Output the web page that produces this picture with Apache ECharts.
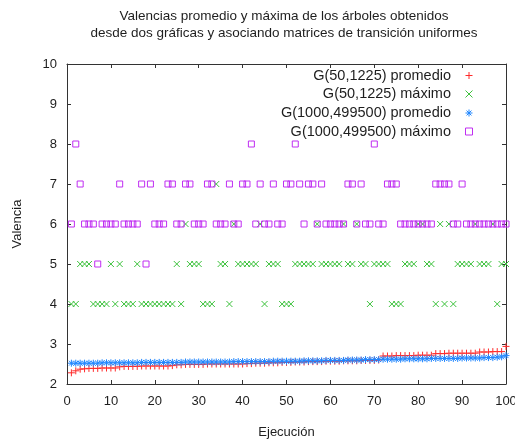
<!DOCTYPE html>
<html>
<head>
<meta charset="utf-8">
<script src="https://cdn.jsdelivr.net/npm/echarts@6/dist/echarts.min.js"></script>
<style>
  html, body { margin: 0; padding: 0; background: #fff; }
  #chart { width: 515px; height: 440px; }
</style>
</head>
<body>
<div id="chart"></div>
<script>
// Run number of each execution (x axis)
const runs = [
  1, 2, 3, 4, 5, 6, 7, 8, 9, 10,
  11, 12, 13, 14, 15, 16, 17, 18, 19, 20,
  21, 22, 23, 24, 25, 26, 27, 28, 29, 30,
  31, 32, 33, 34, 35, 36, 37, 38, 39, 40,
  41, 42, 43, 44, 45, 46, 47, 48, 49, 50,
  51, 52, 53, 54, 55, 56, 57, 58, 59, 60,
  61, 62, 63, 64, 65, 66, 67, 68, 69, 70,
  71, 72, 73, 74, 75, 76, 77, 78, 79, 80,
  81, 82, 83, 84, 85, 86, 87, 88, 89, 90,
  91, 92, 93, 94, 95, 96, 97, 98, 99, 100
];

// G(50,1225): average degree per run
const avgG50 = [
  2.28, 2.33, 2.37, 2.38, 2.39, 2.39, 2.39, 2.40, 2.40, 2.40,
  2.40, 2.43, 2.44, 2.44, 2.44, 2.44, 2.45, 2.45, 2.45, 2.45,
  2.45, 2.45, 2.45, 2.46, 2.48, 2.48, 2.49, 2.49, 2.49, 2.49,
  2.49, 2.50, 2.50, 2.50, 2.50, 2.50, 2.50, 2.50, 2.50, 2.50,
  2.51, 2.51, 2.52, 2.52, 2.52, 2.53, 2.53, 2.53, 2.54, 2.54,
  2.54, 2.55, 2.55, 2.55, 2.56, 2.56, 2.56, 2.56, 2.57, 2.57,
  2.57, 2.57, 2.58, 2.58, 2.58, 2.58, 2.59, 2.59, 2.59, 2.59,
  2.60, 2.70, 2.70, 2.70, 2.71, 2.71, 2.71, 2.71, 2.71, 2.72,
  2.72, 2.72, 2.72, 2.76, 2.76, 2.76, 2.77, 2.77, 2.77, 2.77,
  2.77, 2.77, 2.77, 2.80, 2.80, 2.80, 2.81, 2.81, 2.81, 2.94
];

// G(50,1225): maximum degree per run
const maxG50 = [
  4, 4, 5, 5, 5, 4, 4, 4, 4, 5,
  4, 5, 4, 4, 4, 5, 4, 4, 4, 4,
  4, 4, 4, 4, 5, 4, 6, 5, 5, 5,
  4, 4, 4, 7, 5, 5, 4, 6, 5, 5,
  5, 5, 5, 6, 4, 5, 5, 5, 4, 4,
  4, 5, 5, 5, 5, 5, 6, 5, 5, 5,
  5, 5, 6, 5, 5, 6, 5, 5, 4, 5,
  5, 5, 5, 4, 4, 4, 5, 5, 5, 6,
  6, 5, 5, 4, 6, 4, 6, 4, 5, 5,
  5, 5, 6, 5, 5, 5, 6, 4, 5, 5
];

// G(1000,499500): average degree per run
const avgG1000 = [
  2.52, 2.52, 2.52, 2.52, 2.52, 2.52, 2.52, 2.53, 2.53, 2.53,
  2.53, 2.53, 2.53, 2.53, 2.53, 2.53, 2.54, 2.54, 2.54, 2.54,
  2.54, 2.54, 2.54, 2.54, 2.54, 2.54, 2.55, 2.55, 2.55, 2.55,
  2.55, 2.55, 2.55, 2.55, 2.55, 2.55, 2.55, 2.56, 2.56, 2.56,
  2.56, 2.56, 2.56, 2.56, 2.56, 2.56, 2.57, 2.57, 2.57, 2.57,
  2.57, 2.57, 2.57, 2.58, 2.58, 2.58, 2.58, 2.58, 2.59, 2.59,
  2.59, 2.59, 2.59, 2.60, 2.60, 2.60, 2.60, 2.61, 2.61, 2.61,
  2.61, 2.62, 2.62, 2.62, 2.62, 2.62, 2.63, 2.63, 2.63, 2.63,
  2.63, 2.63, 2.64, 2.64, 2.64, 2.64, 2.64, 2.64, 2.64, 2.65,
  2.65, 2.65, 2.65, 2.65, 2.66, 2.66, 2.66, 2.67, 2.68, 2.71
];

// G(1000,499500): maximum degree per run
const maxG1000 = [
  6, 8, 7, 6, 6, 6, 5, 6, 6, 6,
  6, 7, 6, 6, 6, 6, 7, 5, 7, 6,
  6, 6, 7, 7, 6, 6, 7, 7, 6, 6,
  6, 7, 7, 6, 6, 6, 7, 6, 6, 7,
  7, 8, 6, 7, 6, 6, 7, 6, 6, 7,
  7, 8, 7, 6, 7, 7, 6, 7, 6, 6,
  6, 6, 6, 7, 7, 6, 7, 6, 6, 8,
  6, 6, 7, 7, 7, 6, 6, 6, 6, 6,
  6, 6, 6, 7, 7, 7, 7, 6, 6, 7,
  6, 6, 6, 6, 6, 6, 6, 6, 6, 6
];

const seriesNames = [
  'G(50,1225) promedio',
  'G(50,1225) máximo',
  'G(1000,499500) promedio',
  'G(1000,499500) máximo'
];

const FONT = "'Liberation Sans', Arial, sans-serif";
const INK = '#1e1e1e';

// gnuplot-style point shapes
const PLUS = 'path://M0,5H10M5,0V10';
const CROSS = 'path://M0,0L10,10M10,0L0,10';
const STAR = 'path://M0,5H10M5,0V10M1.5,1.5L8.5,8.5M8.5,1.5L1.5,8.5';
const SQUARE = 'path://M0,0H10V10H0Z';

const colors = ['#ff2a2a', '#3cc23c', '#1f86ff', '#c02ef2'];
const shapes = [PLUS, CROSS, STAR, SQUARE];
const sizes = [7, 6, 7, 6];
const values = [avgG50, maxG50, avgG1000, maxG1000];

const pairs = v => runs.map((r, i) => [r, v[i]]);

const markStyle = k => ({
  color: k === 3 ? 'rgba(0,0,0,0)' : colors[k],
  borderColor: colors[k],
  borderWidth: 1,
  opacity: 1
});

const series = seriesNames.map((name, k) => ({
  name,
  type: 'scatter',
  data: pairs(values[k]),
  symbol: shapes[k],
  symbolSize: sizes[k],
  symbolKeepAspect: true,
  itemStyle: markStyle(k),
  emphasis: { disabled: true },
  animation: false
}));

// One legend block per series so every label is right-aligned against its key
const legendTops = [68, 86.5, 105.5, 124];
const legends = seriesNames.map((name, k) => ({
  data: [{ name, icon: shapes[k], itemStyle: markStyle(k) }],
  orient: 'horizontal',
  align: 'right',
  right: 42,
  top: legendTops[k],
  padding: 0,
  itemWidth: 26,
  itemHeight: 7,
  symbolKeepAspect: true,
  selectedMode: false,
  itemStyle: markStyle(k),
  textStyle: { fontFamily: FONT, fontSize: 14.5, color: INK }
}));

const xBase = {
  type: 'value', min: 0, max: 100, interval: 10,
  axisLine: { show: true, onZero: false, lineStyle: { color: '#333', width: 1 } },
  axisTick: { show: true, inside: true, length: 4, lineStyle: { color: '#333' } },
  splitLine: { show: false }
};
const yBase = {
  type: 'value', min: 2, max: 10, interval: 1,
  axisLine: { show: true, onZero: false, lineStyle: { color: '#333', width: 1 } },
  axisTick: { show: true, inside: true, length: 4, lineStyle: { color: '#333' } },
  splitLine: { show: false }
};

const chart = echarts.init(document.getElementById('chart'), null, { renderer: 'canvas' });
chart.setOption({
  backgroundColor: '#ffffff',
  animation: false,
  grid: { left: 67, right: 9, top: 64, bottom: 56, containLabel: false, outerBoundsMode: 'none' },
  graphic: [
    {
      type: 'text', x: 284, y: 16,
      style: { text: 'Valencias promedio y máxima de los árboles obtenidos',
        fontFamily: FONT, fontSize: 13.5, fill: INK, textAlign: 'center', textVerticalAlign: 'middle' }
    },
    {
      type: 'text', x: 284, y: 33,
      style: { text: 'desde dos gráficas y asociando matrices de transición uniformes',
        fontFamily: FONT, fontSize: 13.5, fill: INK, textAlign: 'center', textVerticalAlign: 'middle' }
    }
  ],
  legend: legends,
  xAxis: [
    Object.assign({}, xBase, {
      position: 'bottom',
      name: 'Ejecución', nameLocation: 'middle', nameGap: 42,
      nameTextStyle: { fontFamily: FONT, fontSize: 13, color: INK },
      axisLabel: { fontFamily: FONT, fontSize: 13, color: INK, margin: 11 }
    }),
    Object.assign({}, xBase, { position: 'top', axisLabel: { show: false } })
  ],
  yAxis: [
    Object.assign({}, yBase, {
      position: 'left',
      name: 'Valencia', nameLocation: 'middle', nameGap: 43,
      nameTextStyle: { fontFamily: FONT, fontSize: 13, color: INK },
      axisLabel: { fontFamily: FONT, fontSize: 13, color: INK, margin: 10 }
    }),
    Object.assign({}, yBase, { position: 'right', axisLabel: { show: false } })
  ],
  series
});
</script>
</body>
</html>
